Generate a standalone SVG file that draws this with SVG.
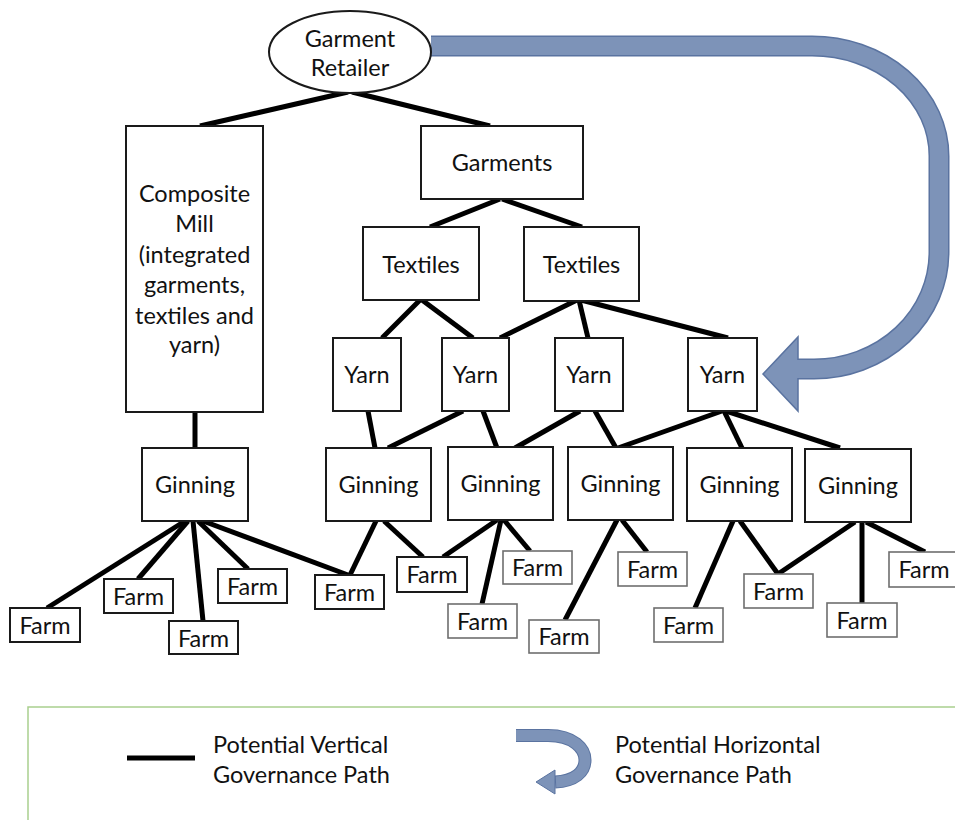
<svg xmlns="http://www.w3.org/2000/svg" width="955" height="820" viewBox="0 0 955 820">
<style>
.box{fill:#fff;stroke:#1a1a1a;stroke-width:2}
.farmg{fill:#fff;stroke:#6e6e6e;stroke-width:1.6}
.t{font-family:Lato,"Open Sans","Liberation Sans",sans-serif;font-size:23.5px;fill:#111;text-anchor:middle}
.lt{font-family:Lato,"Open Sans","Liberation Sans",sans-serif;font-size:23.5px;fill:#111}
.c line{stroke:#000;stroke-width:5;stroke-linecap:butt}
</style>
<rect width="955" height="820" fill="#fff"/>
<!-- horizontal governance arrow -->
<g id="horizontal-arrow">
<path d="M431,46 H812 A127,110 0 0 1 939,156 V252 A125,117 0 0 1 814,369 H790" fill="none" stroke="#5a73a0" stroke-width="21"/>
<polygon points="763,374 798,337 798,411" fill="#7d93b8" stroke="#5a73a0" stroke-width="1.5"/>
<path d="M431,46 H812 A127,110 0 0 1 939,156 V252 A125,117 0 0 1 814,369 H792" fill="none" stroke="#7d93b8" stroke-width="18"/>
</g>
<g class="c" id="connectors">
<line x1="348" y1="92" x2="200" y2="126"/>
<line x1="352" y1="92" x2="490" y2="126"/>
<line x1="500" y1="199" x2="430" y2="227"/>
<line x1="502" y1="199" x2="582" y2="227"/>
<line x1="195" y1="412" x2="195" y2="448"/>
<line x1="420" y1="300" x2="382" y2="338"/>
<line x1="422" y1="300" x2="473" y2="338"/>
<line x1="577" y1="300" x2="500" y2="338"/>
<line x1="579" y1="300" x2="588" y2="338"/>
<line x1="581" y1="300" x2="728" y2="338"/>
<line x1="368" y1="411" x2="375" y2="448"/>
<line x1="463" y1="411" x2="388" y2="448"/>
<line x1="483" y1="411" x2="497" y2="448"/>
<line x1="580" y1="411" x2="515" y2="448"/>
<line x1="595" y1="411" x2="616" y2="448"/>
<line x1="722" y1="411" x2="618" y2="448"/>
<line x1="724" y1="411" x2="742" y2="448"/>
<line x1="726" y1="411" x2="840" y2="448"/>
<line x1="185" y1="521" x2="47" y2="608"/>
<line x1="188" y1="521" x2="138" y2="579"/>
<line x1="193" y1="521" x2="203" y2="621"/>
<line x1="198" y1="521" x2="248" y2="569"/>
<line x1="203" y1="521" x2="348" y2="575"/>
<line x1="376" y1="521" x2="350" y2="575"/>
<line x1="384" y1="521" x2="423" y2="557"/>
<line x1="497" y1="520" x2="443" y2="557"/>
<line x1="501" y1="520" x2="482" y2="604"/>
<line x1="504" y1="520" x2="530" y2="551"/>
<line x1="617" y1="520" x2="565" y2="620"/>
<line x1="622" y1="520" x2="647" y2="552"/>
<line x1="733" y1="521" x2="695" y2="608"/>
<line x1="740" y1="521" x2="778" y2="574"/>
<line x1="855" y1="522" x2="778" y2="574"/>
<line x1="862" y1="522" x2="862" y2="603"/>
<line x1="866" y1="522" x2="925" y2="552"/>
</g>
<g id="retailer"><ellipse cx="350" cy="52" rx="81" ry="41" class="box"/><text class="t" x="350" y="47">Garment</text><text class="t" x="350" y="76">Retailer</text></g>
<g id="composite"><rect x="126" y="126" width="137" height="286" class="box"/>
<text class="t" x="194.5" y="202">Composite</text><text class="t" x="194.5" y="232">Mill</text><text class="t" x="194.5" y="263">(integrated</text><text class="t" x="194.5" y="293">garments,</text><text class="t" x="194.5" y="324">textiles and</text><text class="t" x="194.5" y="353">yarn)</text></g>
<g id="garments"><rect x="421" y="126" width="162" height="73" class="box"/><text class="t" x="502" y="171">Garments</text></g>
<g id="textiles1"><rect x="363" y="227" width="116" height="73" class="box"/><text class="t" x="421" y="273">Textiles</text></g>
<g id="textiles2"><rect x="524" y="227" width="115" height="74" class="box"/><text class="t" x="581.5" y="273">Textiles</text></g>
<g id="yarn1"><rect x="333" y="338" width="68" height="73" class="box"/><text class="t" x="367" y="383">Yarn</text></g>
<g id="yarn2"><rect x="442" y="338" width="67" height="73" class="box"/><text class="t" x="475.5" y="383">Yarn</text></g>
<g id="yarn3"><rect x="555" y="338" width="68" height="73" class="box"/><text class="t" x="589" y="383">Yarn</text></g>
<g id="yarn4"><rect x="688" y="338" width="69" height="73" class="box"/><text class="t" x="722.5" y="383">Yarn</text></g>
<g id="ginning1"><rect x="142" y="448" width="106" height="73" class="box"/><text class="t" x="195" y="493">Ginning</text></g>
<g id="ginning2"><rect x="326" y="448" width="105" height="73" class="box"/><text class="t" x="378.5" y="493">Ginning</text></g>
<g id="ginning3"><rect x="448" y="447" width="105" height="73" class="box"/><text class="t" x="500.5" y="492">Ginning</text></g>
<g id="ginning4"><rect x="568" y="447" width="105" height="73" class="box"/><text class="t" x="620.5" y="492">Ginning</text></g>
<g id="ginning5"><rect x="687" y="448" width="105" height="73" class="box"/><text class="t" x="739.5" y="493">Ginning</text></g>
<g id="ginning6"><rect x="805" y="449" width="106" height="73" class="box"/><text class="t" x="858" y="494">Ginning</text></g>
<g id="farm1"><rect x="10" y="608" width="70" height="34" class="box"/><text class="t" x="45" y="634">Farm</text></g>
<g id="farm2"><rect x="104" y="579" width="69" height="34" class="box"/><text class="t" x="138.5" y="605">Farm</text></g>
<g id="farm3"><rect x="169" y="621" width="69" height="33" class="box"/><text class="t" x="203.5" y="647">Farm</text></g>
<g id="farm4"><rect x="218" y="569" width="69" height="34" class="box"/><text class="t" x="252.5" y="595">Farm</text></g>
<g id="farm5"><rect x="315" y="575" width="69" height="34" class="box"/><text class="t" x="349.5" y="601">Farm</text></g>
<g id="farm6"><rect x="397" y="557" width="70" height="35" class="box"/><text class="t" x="432" y="583">Farm</text></g>
<g id="farm7"><rect x="503" y="551" width="69" height="33" class="farmg"/><text class="t" x="537.5" y="576">Farm</text></g>
<g id="farm8"><rect x="448" y="604" width="69" height="34" class="farmg"/><text class="t" x="482.5" y="630">Farm</text></g>
<g id="farm9"><rect x="529" y="620" width="70" height="33" class="farmg"/><text class="t" x="564" y="645">Farm</text></g>
<g id="farm10"><rect x="618" y="552" width="69" height="34" class="farmg"/><text class="t" x="652.5" y="578">Farm</text></g>
<g id="farm11"><rect x="654" y="608" width="69" height="34" class="farmg"/><text class="t" x="688.5" y="634">Farm</text></g>
<g id="farm12"><rect x="744" y="574" width="69" height="34" class="farmg"/><text class="t" x="778.5" y="600">Farm</text></g>
<g id="farm13"><rect x="827" y="603" width="70" height="34" class="farmg"/><text class="t" x="862" y="629">Farm</text></g>
<g id="farm14"><rect x="889" y="552" width="70" height="35" class="farmg"/><text class="t" x="924" y="578">Farm</text></g>
<g id="legend">
<rect x="28" y="707" width="940" height="130" fill="none" stroke="#a9cf8e" stroke-width="1.5"/>
<line x1="127" y1="758" x2="195" y2="758" stroke="#000" stroke-width="5"/>
<text class="lt" x="213" y="753">Potential Vertical</text>
<text class="lt" x="213" y="783">Governance Path</text>
<path d="M516,735.5 H548 C574,735.5 585,749 585,760 C585,772 575,781 555,782" fill="none" stroke="#5a73a0" stroke-width="13"/>
<polygon points="536,782 555,770 555,794" fill="#7d93b8" stroke="#5a73a0" stroke-width="1"/>
<path d="M516,735.5 H548 C574,735.5 585,749 585,760 C585,772 575,781 556,782" fill="none" stroke="#7d93b8" stroke-width="11"/>
<text class="lt" x="615" y="753">Potential Horizontal</text>
<text class="lt" x="615" y="783">Governance Path</text>
</g>
</svg>
